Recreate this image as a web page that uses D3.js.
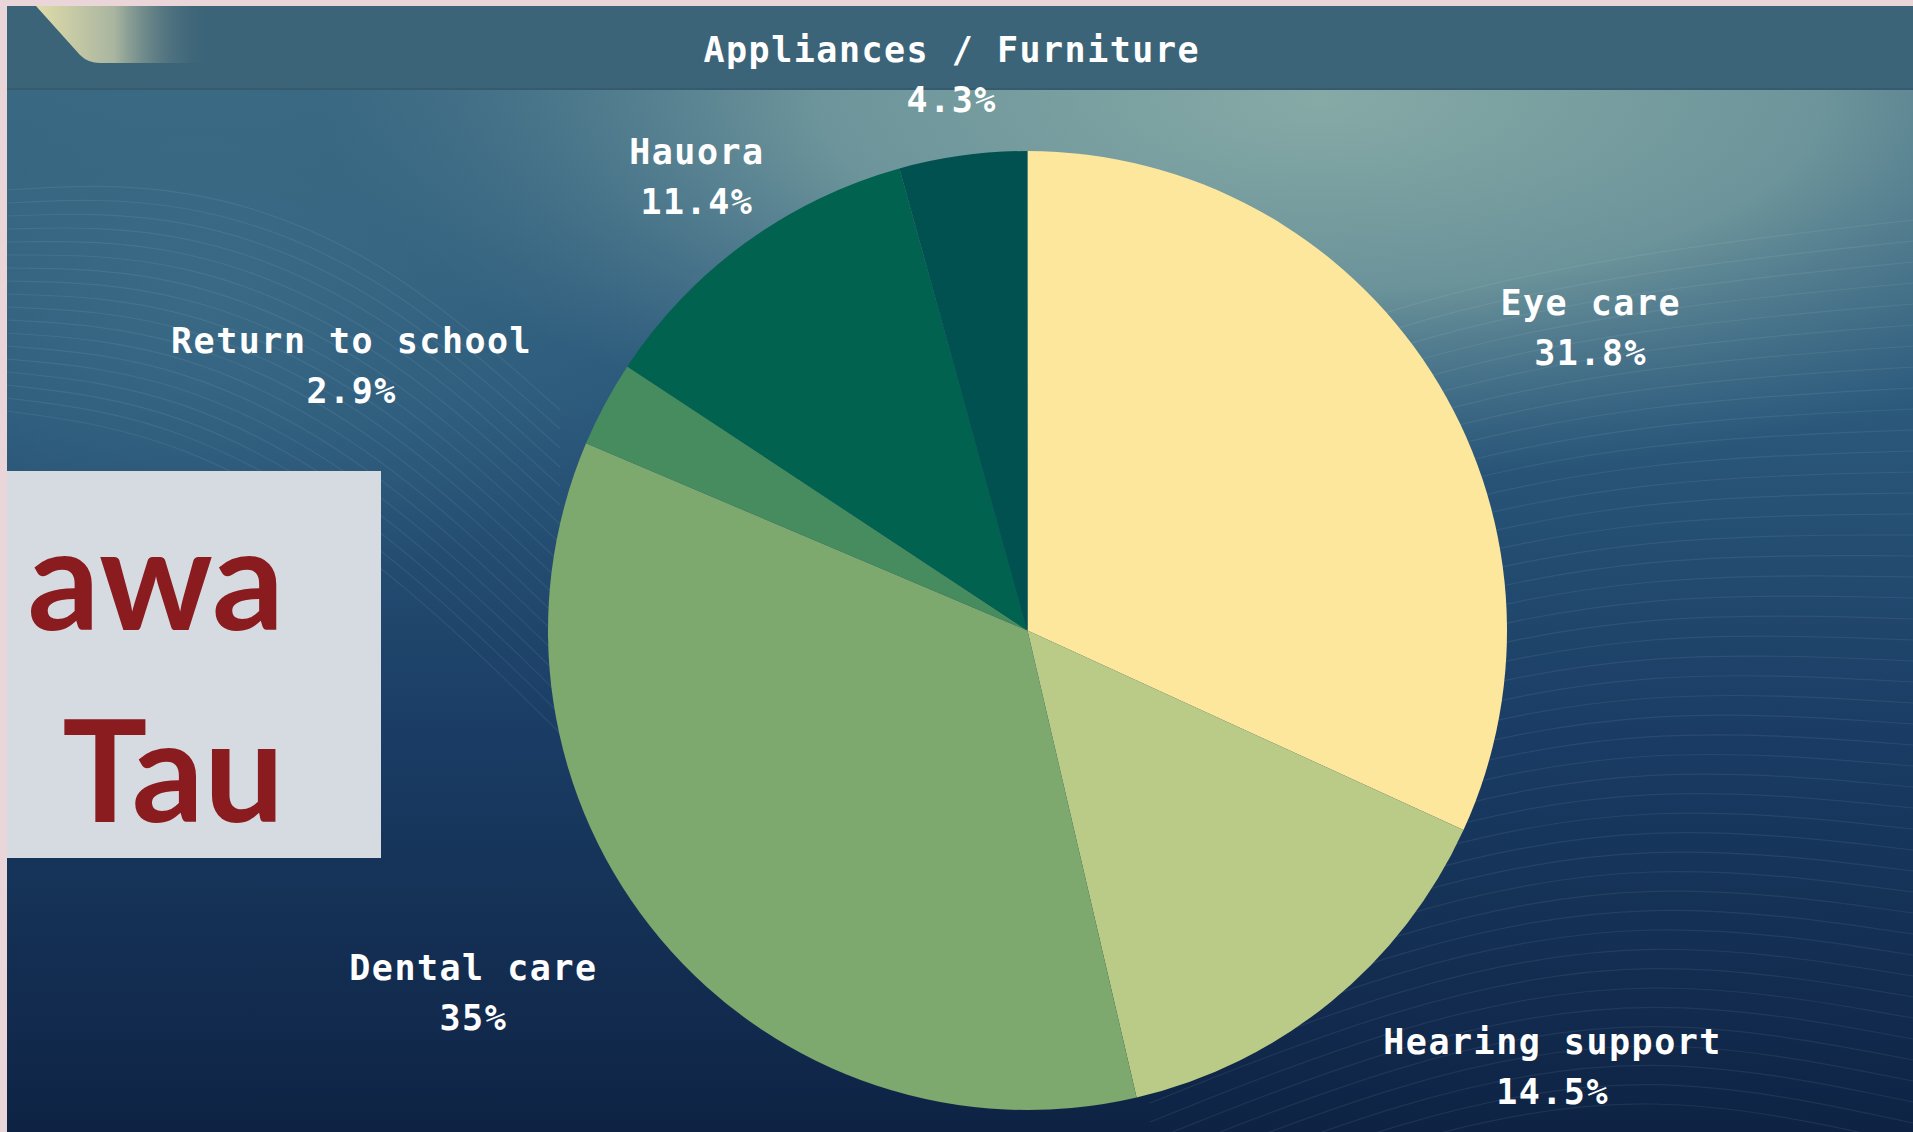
<!DOCTYPE html>
<html>
<head>
<meta charset="utf-8">
<script src="https://cdn.jsdelivr.net/npm/d3@7"></script>
<style>
  html, body { margin: 0; padding: 0; background: #ead6d8; overflow: hidden; }
  svg { display: block; }
</style>
</head>
<body>
<script>
//1. Data
const categories = ["Eye care", "Hearing support", "Dental care", "Return to school", "Hauora", "Appliances / Furniture"];
const shares = [31.8, 14.5, 35, 2.9, 11.4, 4.3];
const sliceColours = ["#fde79d", "#b9cb87", "#7da86e", "#468c5f", "#00624f", "#00514f"];
const insetLines = ["awa", "Tau"];

//2. Sizes
const w = 1913, h = 1132;
const frameTop = 6, frameLeft = 7;
const cx = 1027.5, cy = 630.5, radius = 479.5;
const labelRadius = 562;

const svg = d3.select("body").append("svg")
    .attr("width", w)
    .attr("height", h);

const defs = svg.append("defs");

//3. Background
const bgGrad = defs.append("linearGradient")
    .attr("id", "bg").attr("x1", 0).attr("y1", 0).attr("x2", 0).attr("y2", 1);
bgGrad.append("stop").attr("offset", "0%").attr("stop-color", "#3d6b83");
bgGrad.append("stop").attr("offset", "35%").attr("stop-color", "#2c5a7c");
bgGrad.append("stop").attr("offset", "65%").attr("stop-color", "#1a3c64");
bgGrad.append("stop").attr("offset", "100%").attr("stop-color", "#0e2344");

const glow = defs.append("radialGradient").attr("id", "glow");
glow.append("stop").attr("offset", "0%").attr("stop-color", "#86aaa6").attr("stop-opacity", 1);
glow.append("stop").attr("offset", "50%").attr("stop-color", "#7aa0a1").attr("stop-opacity", 0.8);
glow.append("stop").attr("offset", "100%").attr("stop-color", "#5a8496").attr("stop-opacity", 0);

const sideGlow = defs.append("radialGradient").attr("id", "sideGlow");
sideGlow.append("stop").attr("offset", "0%").attr("stop-color", "#3f7189").attr("stop-opacity", 0.6);
sideGlow.append("stop").attr("offset", "100%").attr("stop-color", "#3f7189").attr("stop-opacity", 0);

svg.append("rect")
    .attr("x", 0).attr("y", 0).attr("width", w).attr("height", h)
    .attr("fill", "url(#bg)");

svg.append("ellipse")
    .attr("cx", 1320).attr("cy", 100).attr("rx", 1000).attr("ry", 380)
    .attr("fill", "url(#glow)");

svg.append("ellipse")
    .attr("cx", 200).attr("cy", 300).attr("rx", 450).attr("ry", 300)
    .attr("fill", "url(#sideGlow)");

// faint wave lines (decoration)
const wave = d3.line().curve(d3.curveBasis);
const waves = svg.append("g")
    .attr("fill", "none")
    .attr("stroke", "#ffffff")
    .attr("stroke-opacity", 0.07)
    .attr("stroke-width", 1.2);

d3.range(45).forEach(i => {
    const b = 260 + i * 19;
    waves.append("path").attr("d", wave([
        [1150, b + 140], [1400, b + 40], [1650, b - 10], [1913, b - 40 + i * 2]
    ]));
});
d3.range(18).forEach(i => {
    const b = 190 + i * 13;
    waves.append("path").attr("d", wave([
        [frameLeft, b], [180, b - 10 + i * 2], [380, b + 60 + i * 5], [560, b + 220 + i * 6]
    ]));
});

// top band
svg.append("rect")
    .attr("x", 0).attr("y", 0).attr("width", w).attr("height", 89)
    .attr("fill", "#3c6478");
svg.append("line")
    .attr("x1", 0).attr("x2", w).attr("y1", 89).attr("y2", 89)
    .attr("stroke", "#365b6e").attr("stroke-width", 2);

// top-left ribbon
const ribbon = defs.append("linearGradient")
    .attr("id", "ribbon").attr("x1", 0).attr("y1", 0).attr("x2", 1).attr("y2", 0);
ribbon.append("stop").attr("offset", "0%").attr("stop-color", "#e0dcaa");
ribbon.append("stop").attr("offset", "45%").attr("stop-color", "#a9b5a0");
ribbon.append("stop").attr("offset", "100%").attr("stop-color", "#3c6478").attr("stop-opacity", 0);

svg.append("path")
    .attr("d", "M36,6 L210,6 L210,63 L100,63 Q88,63 80,55 Z")
    .attr("fill", "url(#ribbon)");

//4. Pie
const pie = d3.pie().sort(null).value(d => d);
const arc = d3.arc().innerRadius(0).outerRadius(radius);
const arcs = pie(shares);

const chart = svg.append("g")
    .attr("transform", "translate(" + cx + "," + cy + ")");

chart.selectAll("path.slice")
    .data(arcs)
    .enter()
    .append("path")
    .attr("class", "slice")
    .attr("d", arc)
    .attr("fill", (d, i) => sliceColours[i]);

//5. Labels
const labels = chart.selectAll("g.label")
    .data(arcs)
    .enter()
    .append("g")
    .attr("class", "label")
    .attr("font-family", "'DejaVu Sans Mono', monospace")
    .attr("font-weight", "bold")
    .attr("font-size", 35)
    .attr("letter-spacing", 1.5)
    .attr("fill", "#ffffff");

labels.each(function (d, i) {
    const g = d3.select(this);
    const mid = (d.startAngle + d.endAngle) / 2;
    const s = Math.sin(mid), c = Math.cos(mid);
    const px = labelRadius * s, py = -labelRadius * c;

    const t1 = g.append("text").attr("text-anchor", "middle").attr("y", py - 12).text(categories[i]);
    const t2 = g.append("text").attr("text-anchor", "middle").attr("y", py + 38).text(shares[i] + "%");
    const bw = Math.max(t1.node().getComputedTextLength(), t2.node().getComputedTextLength());

    let bx = px;
    if (s > 0.62) bx = px + bw / 2;
    else if (s < -0.62) bx = px - bw / 2;
    t1.attr("x", bx);
    t2.attr("x", bx);
});

//6. Inset box
svg.append("rect")
    .attr("x", frameLeft).attr("y", 471).attr("width", 381 - frameLeft).attr("height", 387)
    .attr("fill", "#d6dbe2");

svg.append("g")
    .attr("font-family", "Lato, 'Open Sans', sans-serif")
    .attr("font-weight", "bold")
    .attr("font-size", 142)
    .attr("fill", "#8a1c20")
    .attr("text-anchor", "end")
    .selectAll("text")
    .data(insetLines)
    .enter()
    .append("text")
    .attr("x", 284)
    .attr("y", (d, i) => 630 + i * 192)
    .text(d => d);

//7. Frame
svg.append("rect").attr("x", 0).attr("y", 0).attr("width", w).attr("height", frameTop).attr("fill", "#ead6d8");
svg.append("rect").attr("x", 0).attr("y", 0).attr("width", frameLeft).attr("height", h).attr("fill", "#ead6d8");
</script>
</body>
</html>
